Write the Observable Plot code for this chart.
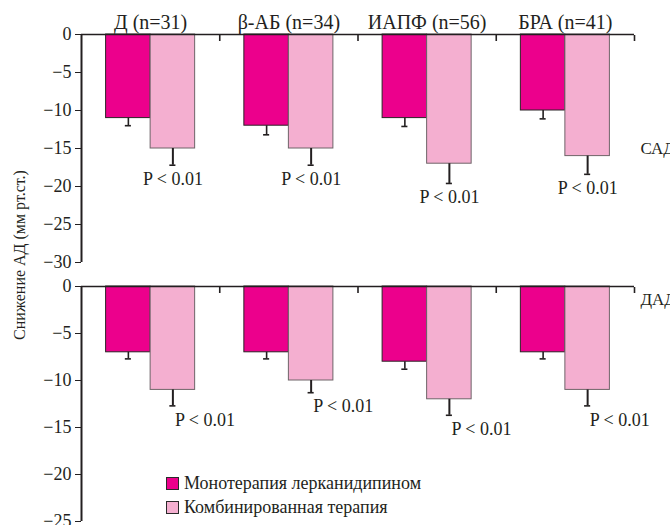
<!DOCTYPE html>
<html>
<head>
<meta charset="utf-8">
<script src="https://cdn.jsdelivr.net/npm/d3@7"></script>
<script src="https://cdn.jsdelivr.net/npm/@observablehq/plot@0.6"></script>
<style>
  html, body { margin: 0; padding: 0; background: #fff; }
  #wrap { position: relative; width: 670px; height: 525px; overflow: hidden; font-family: "Liberation Serif", "Times New Roman", Times, "DejaVu Serif", "Noto Serif", serif; color: #231f20; }
  #topPanel, #bottomPanel { position: absolute; left: 0; }
  #topPanel { top: 0; }
  #bottomPanel { top: 272px; }
  #wrap svg, #wrap svg text { font-family: "Liberation Serif", "Times New Roman", Times, "DejaVu Serif", "Noto Serif", serif !important; }
  #ytitle { position: absolute; left: 20px; top: 255px; transform: translate(-50%, -50%) rotate(-90deg); white-space: nowrap; font-size: 16px; }
  #legend { position: absolute; left: 166px; top: 471px; font-size: 18px; line-height: 24px; }
  #legend .row { display: flex; align-items: center; }
  #legend .sw { width: 11px; height: 11px; border: 1px solid #2a2a2a; margin-right: 5px; }
</style>
</head>
<body>
<div id="wrap">
  <div id="topPanel"></div>
  <div id="bottomPanel"></div>
  <div id="ytitle"></div>
  <div id="legend"></div>
</div>
<script>
// ---- data ----
const groups = ["Д (n=31)", "β-АБ (n=34)", "ИАПФ (n=56)", "БРА (n=41)"];
const series = ["Монотерапия лерканидипином", "Комбинированная терапия"];
const panelLabels = ["САД", "ДАД"];
const yTitle = "Снижение АД (мм рт.ст.)";
const pLabel = "P < 0.01";

const sadMono = [-11, -12, -11, -10];
const sadMonoErr = [1.0, 1.2, 1.1, 1.1];
const sadCombo = [-15, -15, -17, -16];
const sadComboErr = [2.2, 2.2, 2.6, 2.4];

const dadMono = [-7, -7, -8, -7];
const dadMonoErr = [0.7, 0.7, 0.8, 0.7];
const dadCombo = [-11, -10, -12, -11];
const dadComboErr = [1.7, 1.3, 1.7, 1.7];

const sadTicks = [0, -5, -10, -15, -20, -25, -30];
const dadTicks = [0, -5, -10, -15, -20, -25];

// ---- styling ----
const colors = ["#EC008C", "#F4AFD0"];
const strokes = ["#2b2326", "#6e6468"];
const ink = "#231f20";
const font = '"Liberation Serif", "Times New Roman", Times, "DejaVu Serif", "Noto Serif", serif';
const W = 0.322;   // bar width as share of a group
const CAP = 0.022; // half cap width as share of a group

function rowsOf(values, errs, s) {
  return values.map((v, i) => ({
    i, s, value: v, err: errs[i], group: groups[i],
    x1: s === 0 ? i + 0.5 - W : i + 0.5,
    x2: s === 0 ? i + 0.5 : i + 0.5 + W,
    cx: s === 0 ? i + 0.5 - W / 2 : i + 0.5 + W / 2,
    low: v - errs[i]
  }));
}

function panel({mono, combo, domain, ticks, height, marginTop, marginBottom, showGroups, label, labelY, labelDy, pMode}) {
  const marks = [
    Plot.rectY(mono, {x1: "x1", x2: "x2", y1: 0, y2: "value", fill: colors[0], stroke: strokes[0], strokeWidth: 1}),
    Plot.rectY(combo, {x1: "x1", x2: "x2", y1: 0, y2: "value", fill: colors[1], stroke: strokes[1], strokeWidth: 1}),
    Plot.ruleX(mono, {x: "cx", y1: "value", y2: "low", stroke: ink, strokeWidth: 1.6}),
    Plot.ruleY(mono, {x1: d => d.cx - CAP, x2: d => d.cx + CAP, y: "low", stroke: ink, strokeWidth: 1.6}),
    Plot.ruleX(combo, {x: "cx", y1: "value", y2: "low", stroke: ink, strokeWidth: 2}),
    Plot.ruleY(combo, {x1: d => d.cx - CAP, x2: d => d.cx + CAP, y: "low", stroke: ink, strokeWidth: 1.6}),
    Plot.ruleY([0], {stroke: ink, strokeWidth: 1.6}),
    Plot.ruleX([0], {stroke: ink, strokeWidth: 2}),
    Plot.axisX({anchor: "top", ticks: [1, 2, 3, 4], tickSize: -6, tickFormat: () => "", stroke: ink, strokeWidth: 1.6, label: null}),
    Plot.axisY({ticks, tickSize: 6, tickPadding: 4, fontSize: 18, stroke: ink, fill: ink, label: null}),
    pMode === "below"
      ? Plot.text(combo, {x: "cx", y: "low", text: () => pLabel, dy: 14, fontSize: 18, fill: ink, textAnchor: "middle"})
      : Plot.text(combo, {x: "cx", y: "low", text: () => pLabel, dy: 14, dx: 2, fontSize: 18, fill: ink, textAnchor: "start"}),
    Plot.text([label], {x: 4, y: labelY, text: d => d, dx: 6, dy: labelDy, fontSize: 17, fill: ink, textAnchor: "start"})
  ];
  if (showGroups) {
    marks.push(Plot.text(groups, {x: (d, i) => i + 0.5, y: 0, text: d => d, dy: -12, fontSize: 20, fill: ink, textAnchor: "middle"}));
  }
  return Plot.plot({
    width: 670,
    height,
    marginLeft: 81,
    marginRight: 36,
    marginTop,
    marginBottom,
    style: {fontFamily: font, color: ink, background: "transparent", overflow: "visible"},
    x: {domain: [0, 4], axis: null},
    y: {domain, axis: null},
    marks
  });
}

const sadPlot = panel({
  mono: rowsOf(sadMono, sadMonoErr, 0),
  combo: rowsOf(sadCombo, sadComboErr, 1),
  domain: [-30, 0], ticks: sadTicks,
  height: 272, marginTop: 34, marginBottom: 10,
  showGroups: true, label: panelLabels[0], labelY: -15, labelDy: 0, pMode: "below"
});
const dadPlot = panel({
  mono: rowsOf(dadMono, dadMonoErr, 0),
  combo: rowsOf(dadCombo, dadComboErr, 1),
  domain: [-25, 0], ticks: dadTicks,
  height: 253, marginTop: 14, marginBottom: 4,
  showGroups: false, label: panelLabels[1], labelY: 0, labelDy: 13, pMode: "right"
});
document.getElementById("topPanel").appendChild(sadPlot);
document.getElementById("bottomPanel").appendChild(dadPlot);
document.getElementById("ytitle").textContent = yTitle;

const legend = document.getElementById("legend");
series.forEach((name, k) => {
  const row = document.createElement("div");
  row.className = "row";
  const sw = document.createElement("span");
  sw.className = "sw";
  sw.style.background = colors[k];
  const t = document.createElement("span");
  t.textContent = name;
  row.appendChild(sw);
  row.appendChild(t);
  legend.appendChild(row);
});
</script>
</body>
</html>
